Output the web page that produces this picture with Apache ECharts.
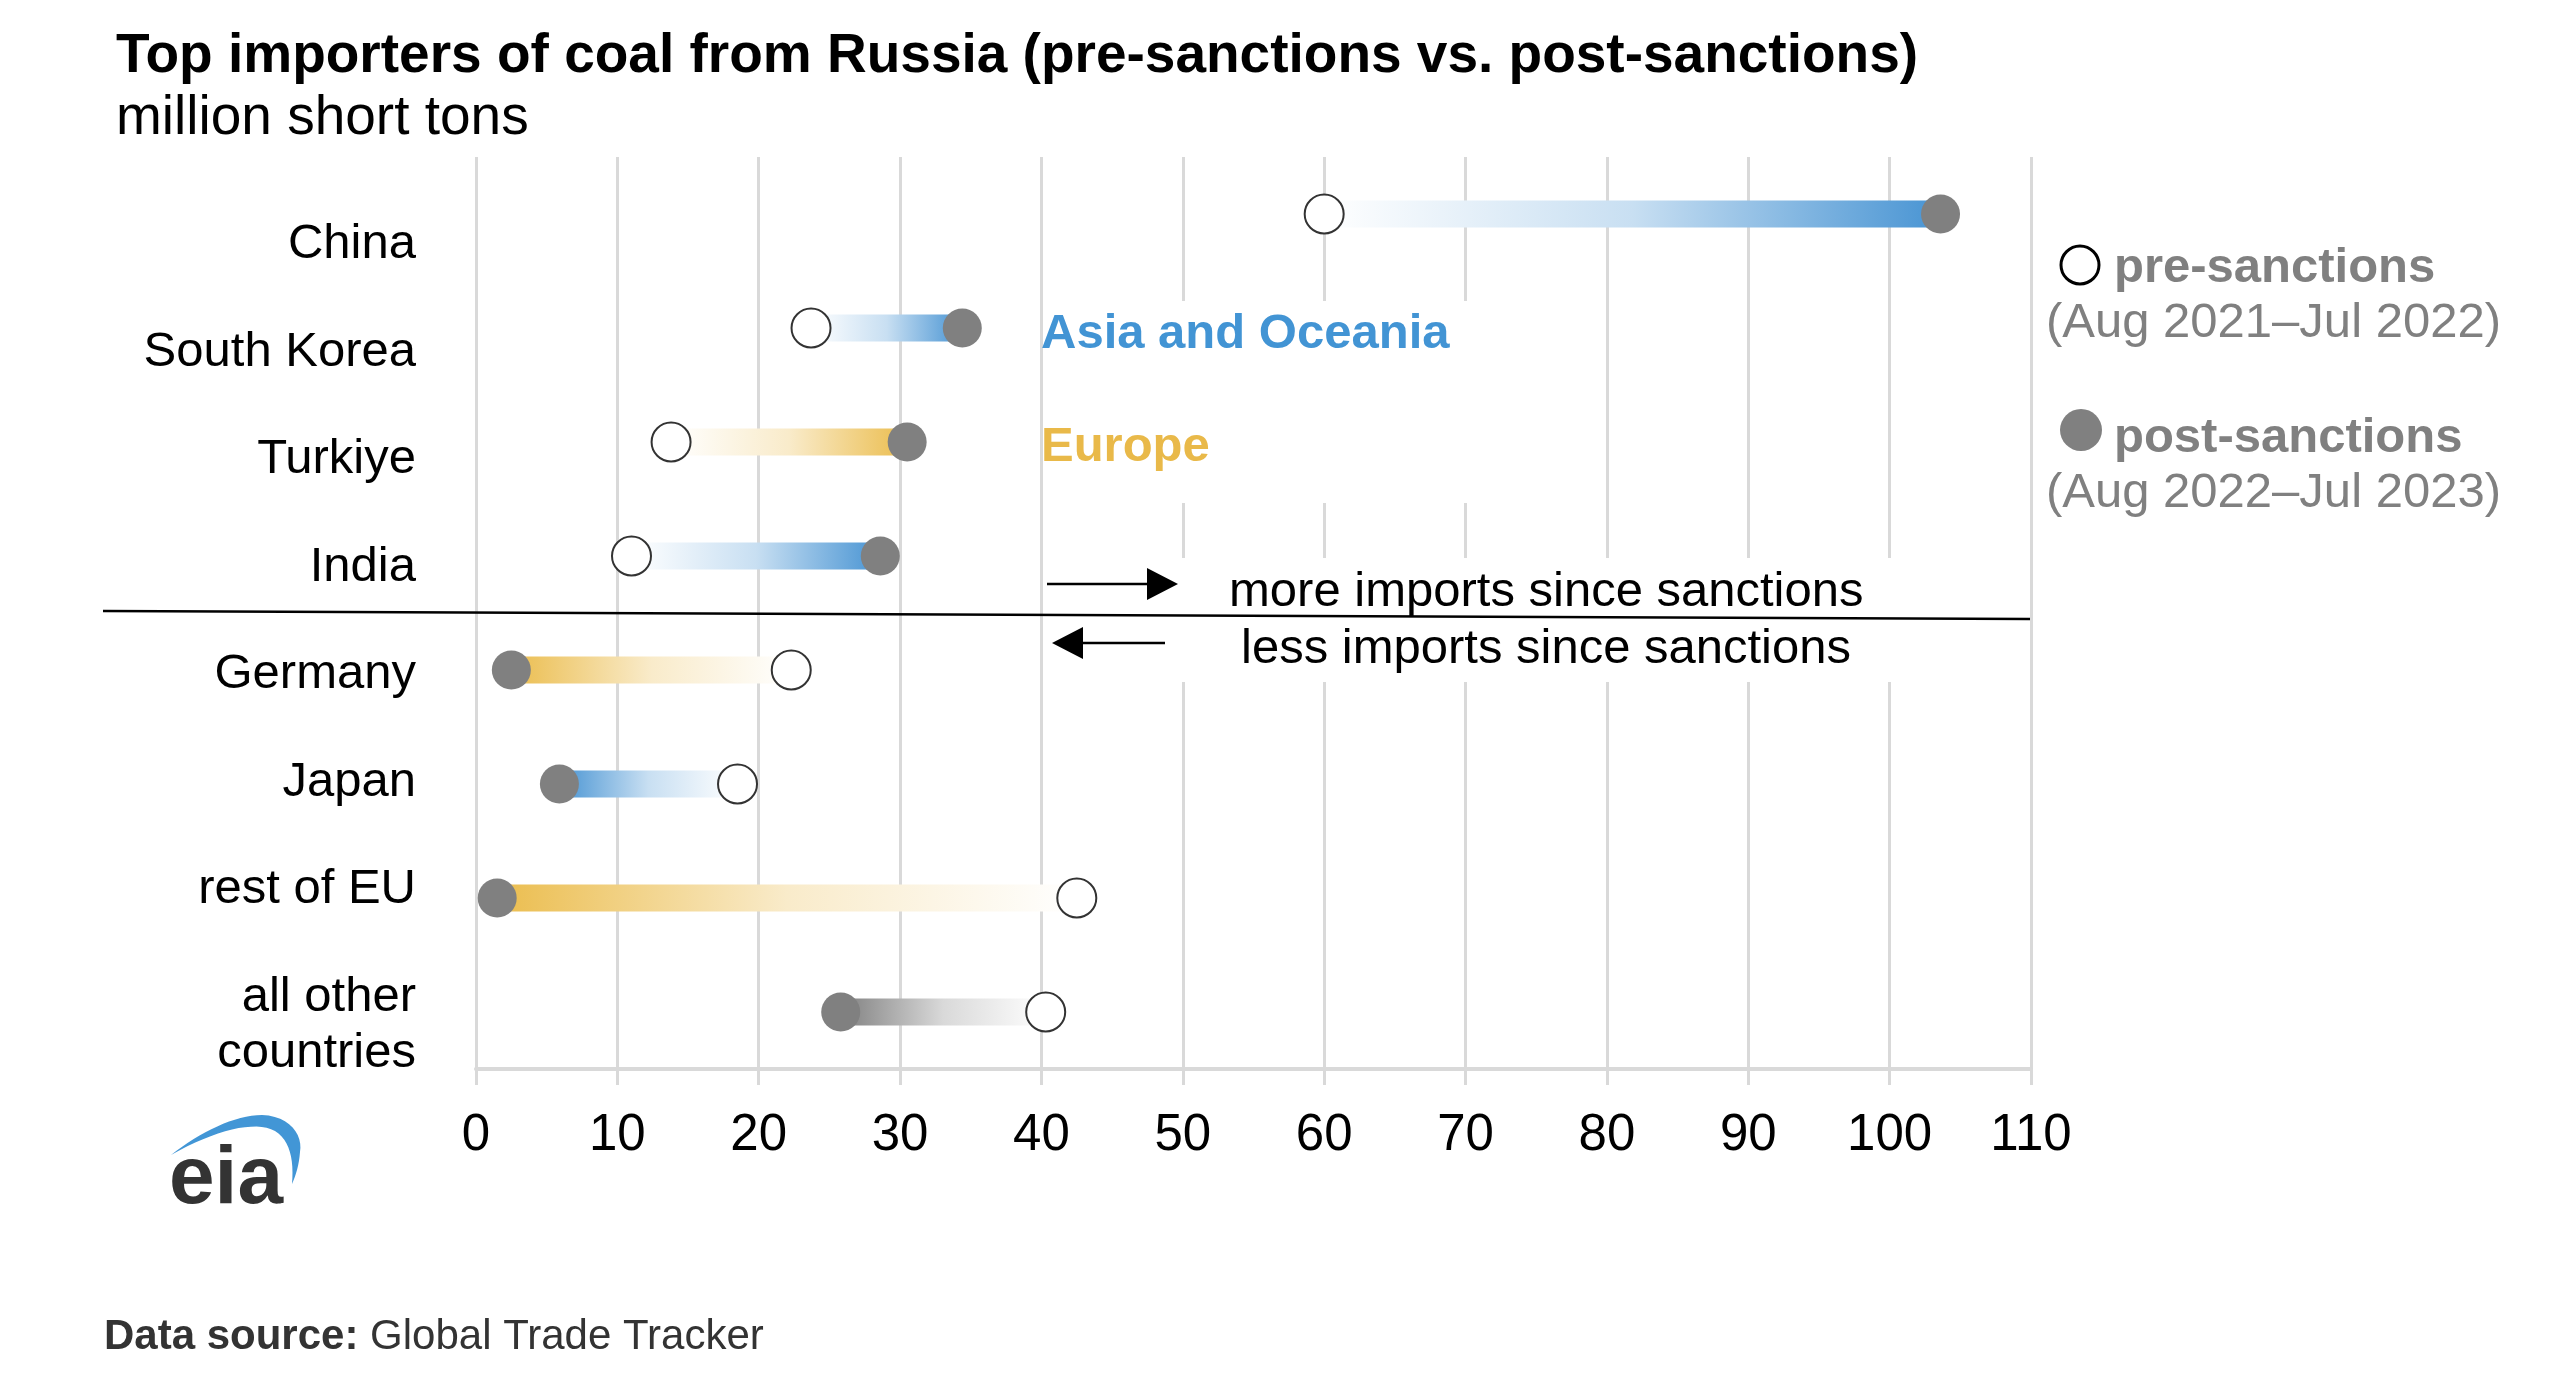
<!DOCTYPE html>
<html>
<head>
<meta charset="utf-8">
<title>Top importers of coal from Russia</title>
<script src="https://cdn.jsdelivr.net/npm/echarts@6/dist/echarts.min.js"></script>
<style>
html, body { margin: 0; padding: 0; background: #fff; }
#chart { width: 2564px; height: 1386px; }
</style>
</head>
<body>
<div id="chart"></div>
<script>
// rows, top to bottom
var countries = ['China', 'South Korea', 'Turkiye', 'India', 'Germany', 'Japan', 'rest of EU', 'all other\ncountries'];
// million short tons, Aug 2021–Jul 2022
var preSanctions = [60.0, 23.7, 13.8, 11.0, 22.3, 18.5, 42.5, 40.3];
// million short tons, Aug 2022–Jul 2023
var postSanctions = [103.6, 34.4, 30.5, 28.6, 2.5, 5.9, 1.5, 25.8];
var regions = ['asia', 'asia', 'europe', 'asia', 'europe', 'asia', 'europe', 'other'];
// x axis ticks
var xMin = 0, xMax = 110, xStep = 10;

var FONT = '"Liberation Sans", Arial, Helvetica, sans-serif';
var regionColors = { asia: '#4894d3', europe: '#ebbd4e', other: '#808080' };

// blend a hex colour with white, t = share of the colour
function mix(hex, t) {
  var n = parseInt(hex.slice(1), 16);
  var r = (n >> 16) & 255, g = (n >> 8) & 255, b = n & 255;
  var f = function (c) { return Math.round(255 + (c - 255) * t); };
  return 'rgb(' + f(r) + ',' + f(g) + ',' + f(b) + ')';
}

function renderSpan(params, api) {
  var row = api.value(0);
  var a = api.coord([api.value(1), row]);
  var b = api.coord([api.value(2), row]);
  var color = regionColors[regions[params.dataIndex]];
  var grew = b[0] > a[0];
  var h = 27;
  return {
    type: 'rect',
    shape: { x: Math.min(a[0], b[0]), y: a[1] - h / 2, width: Math.abs(b[0] - a[0]), height: h },
    style: {
      fill: {
        type: 'linear', x: grew ? 0 : 1, y: 0, x2: grew ? 1 : 0, y2: 0,
        colorStops: [
          { offset: 0, color: '#ffffff' },
          { offset: 0.5, color: mix(color, 0.3) },
          { offset: 1, color: color }
        ]
      }
    }
  };
}

// cubic bezier sampled to points (for the logo swoosh)
function bez(p0, p1, p2, p3, n) {
  var pts = [];
  for (var i = 0; i <= n; i++) {
    var t = i / n, u = 1 - t;
    pts.push([
      u * u * u * p0[0] + 3 * u * u * t * p1[0] + 3 * u * t * t * p2[0] + t * t * t * p3[0],
      u * u * u * p0[1] + 3 * u * u * t * p1[1] + 3 * u * t * t * p2[1] + t * t * t * p3[1]
    ]);
  }
  return pts;
}
var swoosh = []
  .concat(bez([171, 1155], [200, 1132], [235, 1115], [262, 1115], 16))
  .concat(bez([262, 1115], [290, 1116], [303, 1135], [300, 1152], 12))
  .concat(bez([300, 1152], [299, 1165], [296, 1175], [292, 1184], 8))
  .concat(bez([292, 1184], [294, 1160], [290, 1140], [275, 1131], 12))
  .concat(bez([275, 1131], [255, 1120], [215, 1130], [171, 1155], 16));

var spans = countries.map(function (c, i) { return [i, preSanctions[i], postSanctions[i]]; });
var preDots = preSanctions.map(function (v, i) { return [v, i]; });
var postDots = postSanctions.map(function (v, i) { return [v, i]; });

var chart = echarts.init(document.getElementById('chart'));

function txt(x, y, text, opts) {
  var style = { text: text, x: x, y: y, fill: '#000', fontSize: 49, fontFamily: FONT, align: 'left', verticalAlign: 'middle' };
  for (var k in opts) style[k] = opts[k];
  return { type: 'text', z: 10, style: style };
}

var option = {
  backgroundColor: '#fff',
  animation: false,
  textStyle: { fontFamily: FONT },
  title: {
    left: 111,
    top: 24,
    itemGap: 7,
    text: 'Top importers of coal from Russia (pre-sanctions vs. post-sanctions)',
    textStyle: { fontSize: 55, fontWeight: 'bold', color: '#000', fontFamily: FONT },
    subtext: 'million short tons',
    subtextStyle: { fontSize: 55, color: '#000', fontFamily: FONT }
  },
  grid: [
    { left: 476, right: 533, top: 157, height: 912 },
    { left: 476, right: 533, top: 163, height: 860 }
  ],
  xAxis: [
    {
      gridIndex: 0,
      type: 'value',
      min: xMin, max: xMax, interval: xStep,
      axisLine: { show: true, lineStyle: { color: '#d9d9d9', width: 4 } },
      axisTick: { show: true, length: 16, lineStyle: { color: '#d9d9d9', width: 3 } },
      splitLine: { show: true, lineStyle: { color: '#d9d9d9', width: 3 } },
      axisLabel: { fontSize: 51, color: '#000', margin: 41, fontFamily: FONT }
    },
    { gridIndex: 1, type: 'value', show: false, min: xMin, max: xMax }
  ],
  yAxis: [
    {
      gridIndex: 0,
      type: 'category',
      data: countries,
      inverse: true,
      axisLine: { show: false },
      axisTick: { show: false },
      axisLabel: { show: false },
      splitLine: { show: false }
    },
    {
      gridIndex: 1,
      type: 'category',
      data: countries,
      inverse: true,
      axisLine: { show: false },
      axisTick: { show: false },
      splitLine: { show: false },
      axisLabel: {
        fontSize: 49, color: '#000', margin: 60, fontFamily: FONT,
        lineHeight: 56, verticalAlign: 'top', align: 'right'
      }
    }
  ],
  series: [
    {
      name: 'change',
      type: 'custom',
      xAxisIndex: 0, yAxisIndex: 0,
      renderItem: renderSpan,
      encode: { x: [1, 2], y: 0 },
      data: spans,
      z: 2
    },
    {
      name: 'pre-sanctions',
      type: 'scatter',
      xAxisIndex: 0, yAxisIndex: 0,
      symbol: 'circle',
      symbolSize: 39,
      itemStyle: { color: '#fff', borderColor: '#333', borderWidth: 2, opacity: 1 },
      data: preDots,
      z: 3
    },
    {
      name: 'post-sanctions',
      type: 'scatter',
      xAxisIndex: 0, yAxisIndex: 0,
      symbol: 'circle',
      symbolSize: 39,
      itemStyle: { color: '#808080', opacity: 1 },
      data: postDots,
      z: 3
    }
  ],
  graphic: [
    // white boxes behind annotations
    { type: 'rect', z: 1, shape: { x: 1044, y: 301, width: 426, height: 202 }, style: { fill: '#fff' } },
    { type: 'rect', z: 1, shape: { x: 1178, y: 558, width: 724, height: 124 }, style: { fill: '#fff' } },
    txt(1041, 334, 'Asia and Oceania', { fill: '#4294d4', fontWeight: 'bold' }),
    txt(1041, 447, 'Europe', { fill: '#e9b949', fontWeight: 'bold' }),
    // separator
    { type: 'line', z: 10, shape: { x1: 103, y1: 611, x2: 2030, y2: 619 }, style: { stroke: '#000', lineWidth: 2.5 } },
    // arrows
    { type: 'line', z: 10, shape: { x1: 1047, y1: 584, x2: 1150, y2: 584 }, style: { stroke: '#000', lineWidth: 2.5 } },
    { type: 'polygon', z: 10, shape: { points: [[1147, 568], [1178, 584], [1147, 600]] }, style: { fill: '#000' } },
    { type: 'line', z: 10, shape: { x1: 1080, y1: 643, x2: 1165, y2: 643 }, style: { stroke: '#000', lineWidth: 2.5 } },
    { type: 'polygon', z: 10, shape: { points: [[1083, 627], [1052, 643], [1083, 659]] }, style: { fill: '#000' } },
    txt(1229, 592, 'more imports since sanctions'),
    txt(1241, 649, 'less imports since sanctions'),
    // legend
    { type: 'circle', z: 10, shape: { cx: 2080, cy: 265, r: 19 }, style: { fill: '#fff', stroke: '#000', lineWidth: 3 } },
    txt(2114, 268, 'pre-sanctions', { fill: '#808080', fontWeight: 'bold' }),
    txt(2046, 323, '(Aug 2021\u2013Jul 2022)', { fill: '#808080' }),
    { type: 'circle', z: 10, shape: { cx: 2081, cy: 430, r: 21 }, style: { fill: '#808080' } },
    txt(2114, 438, 'post-sanctions', { fill: '#808080', fontWeight: 'bold' }),
    txt(2046, 493, '(Aug 2022\u2013Jul 2023)', { fill: '#808080' }),
    // eia logo
    { type: 'polygon', z: 10, shape: { points: swoosh }, style: { fill: '#4296d6' } },
    txt(169, 1180, 'eia', { fill: '#333', fontWeight: 'bold', fontSize: 82 }),
    // source
    {
      type: 'text', z: 10,
      style: {
        x: 104, y: 1337, verticalAlign: 'middle',
        text: '{b|Data source:} Global Trade Tracker',
        fill: '#333', fontSize: 42, fontFamily: FONT,
        rich: { b: { fontWeight: 'bold', fontSize: 42, fill: '#333', fontFamily: FONT } }
      }
    }
  ]
};

chart.setOption(option);
</script>
</body>
</html>
